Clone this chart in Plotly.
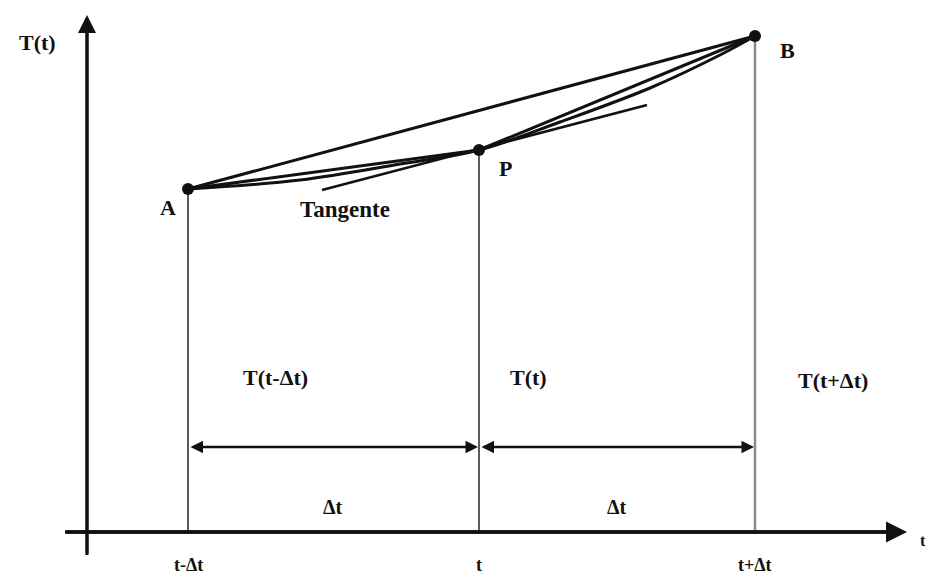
import plotly.graph_objects as go

# Diagram data (arbitrary units: t to the right, T upward, origin at axes crossing)
point_names = ["A", "P", "B"]
t_points = [101, 392, 668]          # t-Δt, t, t+Δt
T_points = [343, 382, 496]

# Curve T(t)
t_curve = [101, 213, 313, 392, 473, 563, 633, 668]
T_curve = [343, 352, 368, 382, 410, 444, 477, 496]

# Tangent at P (segment endpoints)
t_tangent = [235, 560]
T_tangent = [342, 427]

tick_labels = ["t-Δt", "t", "t+Δt"]
value_labels = ["T(t-Δt)", "T(t)", "T(t+Δt)"]
delta_label = "Δt"

FONT = "Liberation Serif, Times New Roman, serif"
BLACK = "#111111"


def b(s):
    return "<b>%s</b>" % s


fig = go.Figure()

# vertical lines from the points down to the t axis
for i, (t, T) in enumerate(zip(t_points, T_points)):
    fig.add_trace(go.Scatter(
        x=[t, t], y=[0, T], mode="lines",
        line=dict(color="#8a8a8a" if i == 2 else "#333333", width=2.5 if i == 2 else 1.6),
        hoverinfo="skip", showlegend=False))

# chords
for (i, j) in [(0, 2), (0, 1), (1, 2)]:
    fig.add_trace(go.Scatter(
        x=[t_points[i], t_points[j]], y=[T_points[i], T_points[j]],
        mode="lines", line=dict(color=BLACK, width=3),
        hoverinfo="skip", showlegend=False))

# curve
fig.add_trace(go.Scatter(x=t_curve, y=T_curve, mode="lines",
                         line=dict(color=BLACK, width=3, shape="spline"),
                         hoverinfo="skip", showlegend=False))
# tangent
fig.add_trace(go.Scatter(x=t_tangent, y=T_tangent, mode="lines",
                         line=dict(color=BLACK, width=2.5),
                         hoverinfo="skip", showlegend=False))

# points
fig.add_trace(go.Scatter(x=t_points, y=T_points, mode="markers",
                         marker=dict(color=BLACK, size=12),
                         hoverinfo="skip", showlegend=False))

ann = []
# axes with arrows
ann.append(dict(x=0, y=517, ax=0, ay=-23, xref="x", yref="y", axref="x", ayref="y",
                showarrow=True, arrowhead=2, arrowsize=1.2, arrowwidth=3,
                arrowcolor=BLACK, text="", standoff=0, startstandoff=0))
ann.append(dict(x=820, y=0, ax=-22, ay=0, xref="x", yref="y", axref="x", ayref="y",
                showarrow=True, arrowhead=2, arrowsize=1.2, arrowwidth=3.5,
                arrowcolor=BLACK, text="", standoff=0, startstandoff=0))

# Δt double arrows
for (a, c) in [(0, 1), (1, 2)]:
    ann.append(dict(x=t_points[c], y=85, ax=t_points[a], ay=85,
                    xref="x", yref="y", axref="x", ayref="y",
                    showarrow=True, arrowhead=2, startarrowhead=2, arrowside="end+start",
                    arrowsize=1.0, startarrowsize=1.0, arrowwidth=2.5,
                    arrowcolor=BLACK, text="", standoff=1, startstandoff=1))
    ann.append(dict(x=(t_points[a] + t_points[c]) / 2 - 0.5, y=25, text=b(delta_label),
                    showarrow=False, font=dict(family=FONT, size=20, color=BLACK)))

# value labels
val_pos = [(188, 155), (441, 155), (746, 152)]
for (x, y), txt in zip(val_pos, value_labels):
    ann.append(dict(x=x, y=y, text=b(txt), showarrow=False,
                    font=dict(family=FONT, size=22, color=BLACK)))

# point names
name_pos = [(81, 325), (418, 364), (700, 482)]
for (x, y), txt in zip(name_pos, point_names):
    ann.append(dict(x=x, y=y, text=b(txt), showarrow=False,
                    font=dict(family=FONT, size=22, color=BLACK)))

ann.append(dict(x=258, y=323, text=b("Tangente"), showarrow=False,
                font=dict(family=FONT, size=23, color=BLACK)))

# tick labels
for t, txt in zip(t_points, tick_labels):
    ann.append(dict(x=t, y=-33, text=b(txt), showarrow=False,
                    font=dict(family=FONT, size=18, color=BLACK)))

# axis titles
ann.append(dict(x=-50, y=490, text=b("T(t)"), showarrow=False,
                font=dict(family=FONT, size=22, color=BLACK)))
ann.append(dict(x=841, y=-8, text=b("t"), showarrow=False, xanchor="right",
                font=dict(family=FONT, size=16, color=BLACK)))

fig.update_layout(
    width=928, height=577, autosize=False,
    margin=dict(l=0, r=0, t=0, b=0),
    paper_bgcolor="white", plot_bgcolor="white",
    xaxis=dict(range=[-87, 841], visible=False, fixedrange=True),
    yaxis=dict(range=[-45, 532], visible=False, fixedrange=True),
    annotations=ann,
)

# axis lines
fig.add_trace(go.Scatter(x=[0, 0], y=[-23, 500], mode="lines",
                         line=dict(color=BLACK, width=3), hoverinfo="skip", showlegend=False))
fig.add_trace(go.Scatter(x=[-22, 805], y=[0, 0], mode="lines",
                         line=dict(color=BLACK, width=3.5), hoverinfo="skip", showlegend=False))

fig.write_html("out.html")
